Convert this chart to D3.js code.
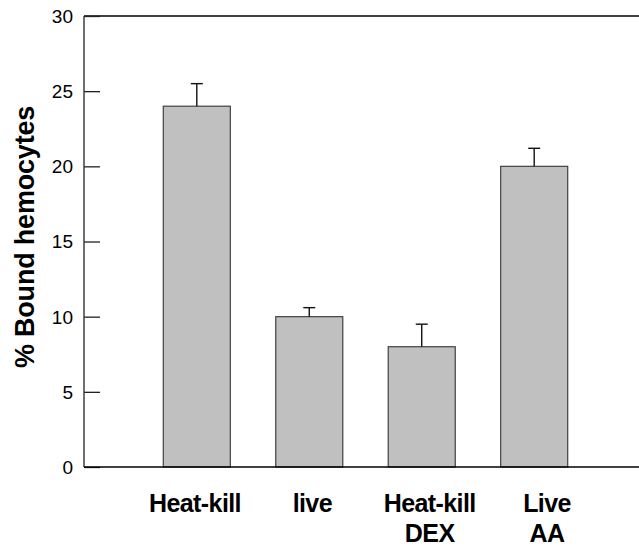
<!DOCTYPE html>
<html>
<head>
<meta charset="utf-8">
<script src="https://cdn.jsdelivr.net/npm/d3@7"></script>
<style>
  body { margin: 0; background: #fff; }
  svg { display: block; font-family: Arial, "Liberation Sans", sans-serif; }
</style>
</head>
<body>
<svg id="chart" width="639" height="549"></svg>
<script>
// values
var categories = ['Heat-kill', 'live', 'Heat-kill DEX', 'Live AA'];
var labelLines = [['Heat-kill'], ['live'], ['Heat-kill', 'DEX'], ['Live', 'AA']];
var means = [24, 10, 8, 20];
var errors = [1.5, 0.6, 1.5, 1.2];
var yTicks = [0, 5, 10, 15, 20, 25, 30];

var svg = d3.select('#chart');

var y = d3.scaleLinear().domain([0, 30]).range([467, 16]);
var x = d3.scaleBand().domain(categories).range([84, 647])
  .paddingInner(0.404).paddingOuter(0.705);
// labels sit a little wider apart than the bars
var labelX = d3.scalePoint().domain(categories).range([195, 547]);

// top frame line
svg.append('line')
  .attr('x1', 84).attr('x2', 639)
  .attr('y1', y(30)).attr('y2', y(30))
  .attr('stroke', '#000').attr('stroke-width', 1.4);

// bars
svg.append('g')
  .selectAll('rect')
  .data(means)
  .enter().append('rect')
  .attr('x', function(d, i) { return x(categories[i]); })
  .attr('y', function(d) { return y(d); })
  .attr('width', x.bandwidth())
  .attr('height', function(d) { return y(0) - y(d); })
  .attr('fill', '#c0c0c0')
  .attr('stroke', '#404040')
  .attr('stroke-width', 1.2);

// error bars (upper only)
var err = svg.append('g').attr('stroke', '#111').attr('stroke-width', 1.4);
means.forEach(function(m, i) {
  var cx = x(categories[i]) + x.bandwidth() / 2;
  err.append('line')
    .attr('x1', cx).attr('x2', cx)
    .attr('y1', y(m)).attr('y2', y(m + errors[i]));
  err.append('line')
    .attr('x1', cx - 6).attr('x2', cx + 6)
    .attr('y1', y(m + errors[i])).attr('y2', y(m + errors[i]));
});

// y axis, ticks pointing inward
var yAxis = d3.axisRight(y).tickValues(yTicks).tickSize(16).tickFormat('');
var gy = svg.append('g').attr('transform', 'translate(84,0)').call(yAxis);
gy.select('.domain').remove();
gy.selectAll('.tick line').attr('stroke', '#222').attr('stroke-width', 1.3);

svg.append('line')
  .attr('x1', 84).attr('x2', 84)
  .attr('y1', y(30)).attr('y2', y(0))
  .attr('stroke', '#333').attr('stroke-width', 1.4);

svg.append('g')
  .selectAll('text')
  .data(yTicks)
  .enter().append('text')
  .attr('x', 73)
  .attr('y', function(d) { return y(d); })
  .attr('dy', '0.36em')
  .attr('text-anchor', 'end')
  .attr('font-size', 19)
  .attr('fill', '#000')
  .text(function(d) { return d; });

// x axis line
svg.append('line')
  .attr('x1', 84).attr('x2', 639)
  .attr('y1', y(0)).attr('y2', y(0))
  .attr('stroke', '#000').attr('stroke-width', 1.4);

// category labels
var lab = svg.append('g')
  .selectAll('text')
  .data(categories)
  .enter().append('text')
  .attr('x', function(d) { return labelX(d); })
  .attr('y', 512)
  .attr('text-anchor', 'middle')
  .attr('font-size', 25)
  .attr('font-weight', 'bold')
  .attr('letter-spacing', -0.6);
lab.each(function(d, i) {
  var t = d3.select(this);
  labelLines[i].forEach(function(s, k) {
    t.append('tspan')
      .attr('x', labelX(d))
      .attr('dy', k === 0 ? 0 : 30)
      .text(s);
  });
});

// y title
svg.append('text')
  .attr('transform', 'translate(34,237) rotate(-90)')
  .attr('text-anchor', 'middle')
  .attr('font-size', 27)
  .attr('font-weight', 'bold')
  .attr('letter-spacing', -0.2)
  .text('% Bound hemocytes');
</script>
</body>
</html>
